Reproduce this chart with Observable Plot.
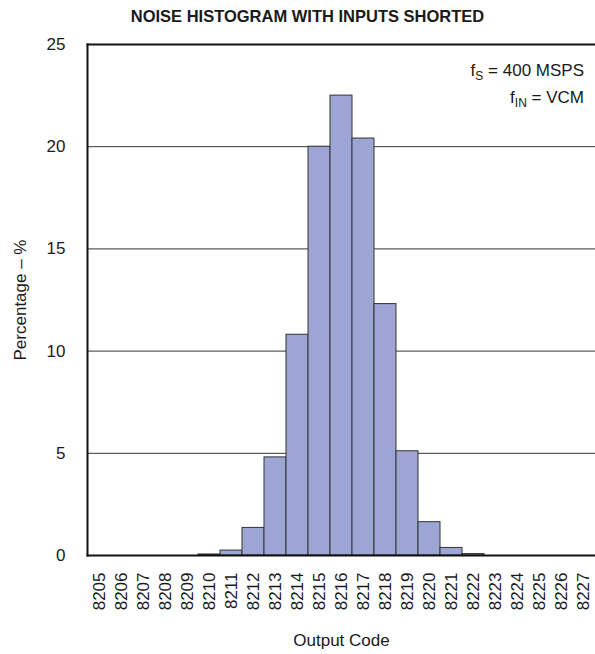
<!DOCTYPE html>
<html>
<head>
<meta charset="utf-8">
<script src="https://cdn.jsdelivr.net/npm/d3@7"></script>
<script src="https://cdn.jsdelivr.net/npm/@observablehq/plot@0.6"></script>
<style>
  html, body { margin: 0; padding: 0; background: #fff; }
  body { width: 595px; height: 654px; overflow: hidden; font-family: "Liberation Sans", Arial, sans-serif; color: #1a1a1a; position: relative; }
  #title { height: 30px; line-height: 32px; font-weight: bold; font-size: 16.5px; text-align: center; padding-left: 20px; box-sizing: border-box; width: 595px; }
  #note { position: absolute; right: 11px; top: 57px; font-size: 17px; text-align: right; line-height: 27px; }
  #note sub { font-size: 12px; vertical-align: -4px; line-height: 0; }
</style>
</head>
<body>
<div id="title">NOISE HISTOGRAM WITH INPUTS SHORTED</div>
<div id="chart"></div>
<div id="note">f<sub>S</sub> = 400 MSPS<br>f<sub>IN</sub> = VCM</div>
<script>
const codes = ["8205","8206","8207","8208","8209","8210","8211","8212","8213","8214","8215","8216","8217","8218","8219","8220","8221","8222","8223","8224","8225","8226","8227"];
const percents = [0, 0, 0, 0, 0, 0.05, 0.24, 1.35, 4.8, 10.8, 20.0, 22.5, 20.4, 12.3, 5.1, 1.63, 0.37, 0.07, 0, 0, 0, 0, 0];
const yTicks = [0, 5, 10, 15, 20, 25];

const data = codes.map((c, i) => ({code: c, pct: percents[i]}));

const chart = Plot.plot({
  width: 595,
  height: 624,
  marginTop: 14,
  marginLeft: 87,
  marginRight: 0,
  marginBottom: 99,
  style: {fontFamily: "'Liberation Sans', Arial, sans-serif", fontSize: "17px", color: "#1a1a1a", background: "#fff"},
  x: {domain: codes, padding: 0, label: null},
  y: {domain: [0, 25], label: null},
  marks: [
    Plot.gridY(yTicks, {stroke: "#333", strokeOpacity: 1, strokeWidth: 1}),
    Plot.barY(data, {x: "code", y: "pct", fill: "#9da5d4", stroke: "#333", strokeWidth: 1}),
    Plot.axisY(yTicks, {tickSize: 0, tickPadding: 22, fontSize: 17, label: "Percentage – %", labelAnchor: "center", labelOffset: 74, labelArrow: "none"}),
    Plot.axisX({tickSize: 0, tickPadding: 17, tickRotate: -90, fontSize: 17, label: "Output Code", labelAnchor: "center", labelOffset: 90, labelArrow: "none"}),
    Plot.frame({anchor: "left", stroke: "#111", strokeWidth: 2}),
    Plot.frame({anchor: "top", stroke: "#111", strokeWidth: 2}),
    Plot.frame({anchor: "bottom", stroke: "#111", strokeWidth: 2})
  ]
});
document.getElementById("chart").appendChild(chart);
</script>
</body>
</html>
